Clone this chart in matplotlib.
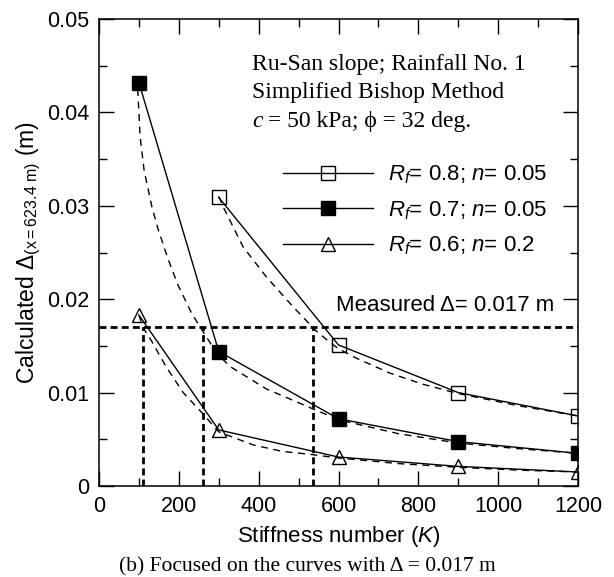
import matplotlib
matplotlib.use('Agg')
import matplotlib.pyplot as plt
from matplotlib.ticker import MultipleLocator

plt.rcParams['font.family'] = ['Liberation Sans', 'DejaVu Sans']
plt.rcParams['mathtext.fontset'] = 'custom'
plt.rcParams['mathtext.rm'] = 'Liberation Sans'
plt.rcParams['mathtext.it'] = 'Liberation Sans:italic'

# ---- data ----
k_open = [300, 600, 900, 1200]
d_open = [0.0309, 0.0151, 0.0100, 0.0075]
k_fill = [100, 300, 600, 900, 1200]
d_fill = [0.0432, 0.0144, 0.0072, 0.00475, 0.0035]
k_tri = [100, 300, 600, 900, 1200]
d_tri = [0.0183, 0.0060, 0.0031, 0.0021, 0.0015]

# dashed fitted curves
fit_open_k = [300, 311, 361, 419, 486, 544, 578, 600, 644, 728, 811, 900, 1050, 1200]
fit_open_d = [0.0310, 0.0299, 0.0256, 0.0224, 0.0192, 0.0166, 0.0154, 0.0147,
              0.0137, 0.0121, 0.0109, 0.0099, 0.0086, 0.0075]
fit_fill_k = [97, 103, 113, 132, 148, 173, 198, 232, 261, 282, 300, 328, 419,
              528, 600, 750, 900, 1050, 1200]
fit_fill_d = [0.0425, 0.0374, 0.0338, 0.0300, 0.0275, 0.0243, 0.0215, 0.0185,
              0.0165, 0.0151, 0.0140, 0.0128, 0.0104, 0.0084, 0.0071, 0.0056,
              0.0046, 0.0040, 0.0035]
fit_tri_k = [100, 110, 132, 169, 211, 261, 300, 386, 460, 527, 600, 750, 900, 1050, 1200]
fit_tri_d = [0.0183, 0.0170, 0.0155, 0.0127, 0.0100, 0.0077, 0.0058, 0.0044,
             0.0037, 0.0034, 0.0030, 0.0024, 0.0020, 0.0017, 0.0015]

measured = 0.017
k_cross = [111, 261, 537]

labels = [r'$R_f$= 0.8; $n$= 0.05', r'$R_f$= 0.7; $n$= 0.05', r'$R_f$= 0.6; $n$= 0.2']

# ------plotting------
fig = plt.figure(figsize=(6.14, 5.77), dpi=100)
ax = fig.add_axes([99/614, 91/577, 479/614, 467/577])

dash_fit = dict(color='k', lw=1.0, ls=(0, (5, 4)))
ax.plot(fit_open_k, fit_open_d, **dash_fit)
ax.plot(fit_fill_k, fit_fill_d, **dash_fit)
ax.plot(fit_tri_k, fit_tri_d, **dash_fit)

l1, = ax.plot(k_open, d_open, '-s', color='k', lw=1.0, ms=10, mfc='none', mew=1.0)
l2, = ax.plot(k_fill, d_fill, '-s', color='k', lw=1.0, ms=10, mfc='k', mew=1.0)
l3, = ax.plot(k_tri, d_tri, '-^', color='k', lw=1.0, ms=10, mfc='none', mew=1.0)

# measured value and crossing lines
meas_style = dict(color='k', lw=2.0, ls=(0, (2.5, 1.5)))
ax.plot([0, 1200], [measured, measured], **meas_style)
for kc in k_cross:
    ax.plot([kc, kc], [0, measured], **meas_style)

ax.set_xlim(0, 1200)
ax.set_ylim(0, 0.05)
ax.xaxis.set_minor_locator(MultipleLocator(100))
ax.yaxis.set_minor_locator(MultipleLocator(0.005))
ax.set_xticks([0, 200, 400, 600, 800, 1000, 1200])
ax.set_xticklabels(['0', '200', '400', '600', '800', '1000', '1200'])
ax.set_yticks([0, 0.01, 0.02, 0.03, 0.04, 0.05])
ax.set_yticklabels(['0', '0.01', '0.02', '0.03', '0.04', '0.05'])
ax.tick_params(which='both', direction='in', top=True, right=True, width=1.0, labelsize=15.5)
ax.tick_params(which='major', length=11, pad=7)
ax.tick_params(which='minor', length=5.5)
for s in ax.spines.values():
    s.set_linewidth(1.1)

ax.set_xlabel(r'Stiffness number ($K$)', fontsize=16, labelpad=5)
ax.set_ylabel(r'Calculated $\Delta_{\mathrm{(x= 623.4\ m)}}$ (m)', fontsize=16.5, labelpad=3)

serif = ['Liberation Serif', 'DejaVu Serif']
ax.text(0.319, 0.891, 'Ru-San slope; Rainfall No. 1', transform=ax.transAxes,
        fontsize=17, family=serif, va='baseline')
ax.text(0.319, 0.831, 'Simplified Bishop Method', transform=ax.transAxes,
        fontsize=17, family=serif, va='baseline')
ax.text(0.319, 0.769, 'c', transform=ax.transAxes, fontsize=17, family=serif,
        style='italic', va='baseline')
ax.annotate('= 50 kPa; ϕ = 32 deg.', xy=(0.319, 0.769), xycoords='axes fraction',
            xytext=(12, 0), textcoords='offset points', fontsize=17, family=serif,
            va='baseline')

ax.text(0.495, 0.375, 'Measured Δ= 0.017 m', transform=ax.transAxes, fontsize=16,
        va='baseline')

ax.legend([l1, l2, l3], labels, loc='upper left', bbox_to_anchor=(0.385, 0.69),
          frameon=False, fontsize=16, handlelength=4.05, handletextpad=0.65,
          labelspacing=0.58, borderpad=0, borderaxespad=0, numpoints=1)

fig.text(0.5, 1 - 571/577, '(b) Focused on the curves with Δ = 0.017 m',
         fontsize=15.5, family=serif, ha='center', va='baseline')

fig.savefig('out.png', dpi=100)
